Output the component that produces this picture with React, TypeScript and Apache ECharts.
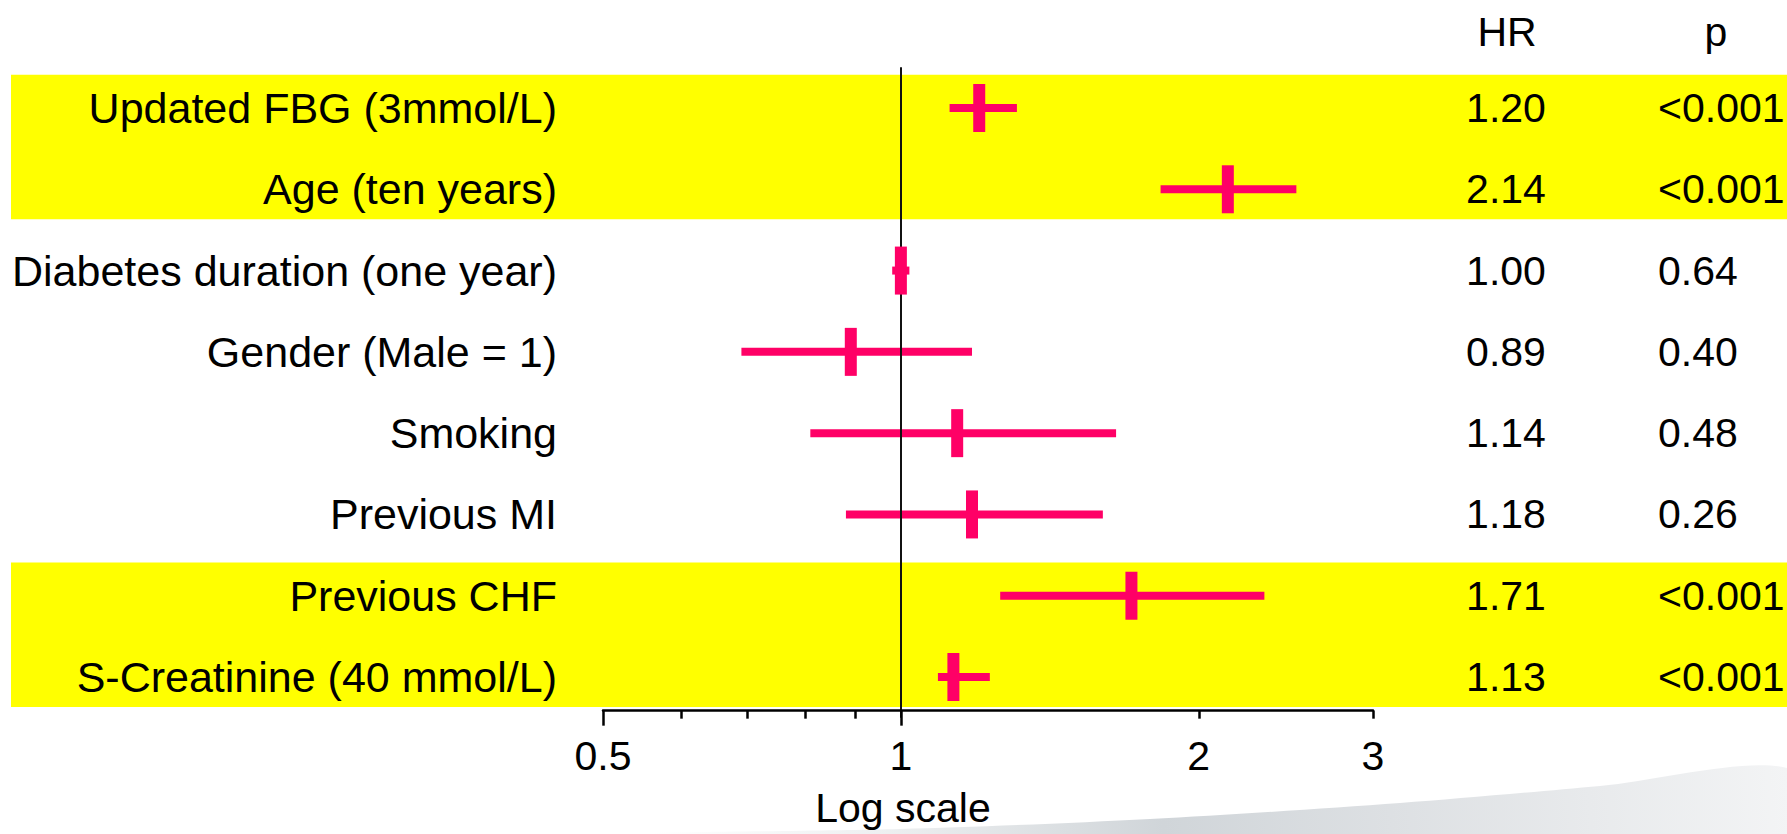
import React, { useEffect, useRef } from "react";
import * as echarts from "echarts";

// Cox model: hazard ratios with 95% confidence intervals
const factors = [
  "Updated FBG (3mmol/L)",
  "Age (ten years)",
  "Diabetes duration (one year)",
  "Gender (Male = 1)",
  "Smoking",
  "Previous MI",
  "Previous CHF",
  "S-Creatinine (40 mmol/L)",
];
const hazardRatios = [1.2, 2.14, 1.0, 0.89, 1.14, 1.18, 1.71, 1.13];
const ciLower = [1.12, 1.83, 0.98, 0.69, 0.81, 0.88, 1.26, 1.09];
const ciUpper = [1.31, 2.51, 1.02, 1.18, 1.65, 1.6, 2.33, 1.23];
const pValues = ["<0.001", "<0.001", "0.64", "0.40", "0.48", "0.26", "<0.001", "<0.001"];

// log-scale axis
const axisMin = 0.5;
const axisMax = 3;
const axisLabelValues = [0.5, 1, 2, 3];
const longTickValues = [0.5, 1];
const shortTickValues = [0.6, 0.7, 0.8, 0.9, 2, 3];

const PINK = "#ff0066";
const YELLOW = "#ffff00";
const FONT = "'Liberation Sans', Arial, Helvetica, sans-serif";

const W = 1787;
const H = 834;
const ROW_TOP = 67.35;
const ROW_H = 81.29;
const PLOT_LEFT = 603;
const PLOT_WIDTH = 770;

const isSignificant = (p: string) => p.startsWith("<") || parseFloat(p) < 0.05;

// consecutive significant rows are shaded together
function significantGroups(): number[][] {
  const groups: number[][] = [];
  pValues.forEach((p, i) => {
    if (!isSignificant(p)) return;
    const last = groups[groups.length - 1];
    if (last && last[1] === i - 1) last[1] = i;
    else groups.push([i, i]);
  });
  return groups;
}

export default function App() {
  const ref = useRef<HTMLDivElement>(null);

  useEffect(() => {
    if (!ref.current) return;
    const chart = echarts.init(ref.current, undefined, { renderer: "svg" });
    const ln = Math.log;
    const groups = significantGroups();
    const gridHeight = ROW_H * factors.length;

    const catAxisBase = {
      type: "category" as const,
      data: factors,
      inverse: true,
      axisLine: { show: false },
      axisTick: { show: false },
      splitLine: { show: false },
      z: 10,
    };

    chart.setOption({
      animation: false,
      backgroundColor: "#ffffff",
      grid: [
        {
          left: PLOT_LEFT,
          width: PLOT_WIDTH,
          top: ROW_TOP,
          height: gridHeight,
          outerBoundsMode: "none",
        },
        {
          left: 11,
          right: 0,
          top: ROW_TOP,
          height: gridHeight,
          outerBoundsMode: "none",
        },
      ],
      xAxis: [
        {
          gridIndex: 0,
          type: "value",
          min: ln(axisMin),
          max: ln(axisMax),
          position: "bottom",
          offset: -7,
          z: 10,
          axisLine: { show: true, lineStyle: { color: "#000", width: 2.5 } },
          axisTick: {
            show: true,
            customValues: longTickValues.map(ln),
            length: 15,
            lineStyle: { color: "#000", width: 2.5 },
          },
          axisLabel: {
            show: true,
            customValues: axisLabelValues.map(ln),
            formatter: (v: number) => String(+Math.exp(v).toFixed(2)),
            fontSize: 41,
            fontFamily: FONT,
            color: "#000",
            margin: 25,
          },
          splitLine: { show: false },
        },
        {
          gridIndex: 0,
          type: "value",
          min: ln(axisMin),
          max: ln(axisMax),
          position: "bottom",
          offset: -7,
          z: 10,
          axisLine: { show: false },
          axisTick: {
            show: true,
            customValues: shortTickValues.map(ln),
            length: 8,
            lineStyle: { color: "#000", width: 2.5 },
          },
          axisLabel: { show: false },
          splitLine: { show: false },
        },
        {
          gridIndex: 1,
          type: "value",
          min: 0,
          max: 1,
          show: false,
        },
      ],
      yAxis: [
        {
          ...catAxisBase,
          gridIndex: 0,
          position: "left",
          axisLabel: {
            interval: 0,
            fontSize: 43,
            fontFamily: FONT,
            color: "#000",
            margin: 46,
          },
        },
        {
          ...catAxisBase,
          gridIndex: 0,
          position: "right",
          axisLabel: {
            interval: 0,
            formatter: (_v: string, i: number) => hazardRatios[i].toFixed(2),
            align: "center",
            fontSize: 41,
            fontFamily: FONT,
            color: "#000",
            margin: 133,
          },
        },
        {
          ...catAxisBase,
          gridIndex: 0,
          position: "right",
          axisLabel: {
            interval: 0,
            formatter: (_v: string, i: number) => pValues[i],
            align: "left",
            fontSize: 41,
            fontFamily: FONT,
            color: "#000",
            margin: 285,
          },
        },
        {
          ...catAxisBase,
          gridIndex: 1,
          show: false,
        },
      ],
      series: [
        {
          // yellow shading behind the significant factors
          type: "custom",
          xAxisIndex: 2,
          yAxisIndex: 3,
          z: 1,
          silent: true,
          data: groups.map((g) => [0, g[0]]),
          renderItem: (params: any, api: any) => {
            const g = groups[params.dataIndex];
            const band = api.size([0, 1])[1];
            const top = api.coord([0, g[0]])[1] - band * 0.41;
            const bottom = api.coord([0, g[1]])[1] + band * 0.37;
            const cs = params.coordSys;
            return {
              type: "rect",
              shape: { x: cs.x, y: top, width: cs.width, height: bottom - top },
              style: { fill: YELLOW },
            };
          },
        },
        {
          // confidence interval bars
          type: "custom",
          xAxisIndex: 0,
          yAxisIndex: 0,
          z: 2,
          silent: true,
          encode: { x: [0, 2], y: 1 },
          data: factors.map((_, i) => [ln(ciLower[i]), i, ln(ciUpper[i])]),
          renderItem: (_params: any, api: any) => {
            const row = api.value(1);
            const a = api.coord([api.value(0), row]);
            const b = api.coord([api.value(2), row]);
            return {
              type: "rect",
              shape: { x: a[0], y: a[1] - 4, width: b[0] - a[0], height: 8 },
              style: { fill: PINK },
            };
          },
        },
        {
          // point estimates
          type: "scatter",
          xAxisIndex: 0,
          yAxisIndex: 0,
          z: 6,
          silent: true,
          symbol: "rect",
          symbolSize: [12, 48],
          itemStyle: { color: PINK, opacity: 1 },
          data: hazardRatios.map((hr, i) => [ln(hr), i]),
          markLine: {
            silent: true,
            z: 5,
            symbol: ["none", "none"],
            label: { show: false },
            lineStyle: { color: "#111", width: 2, type: "solid" },
            data: [{ xAxis: 0 }],
          },
        },
      ],
      graphic: [
        {
          type: "polygon",
          z: -10,
          silent: true,
          shape: {
            points: [
              [560, 834],
              [900, 829],
              [1150, 819],
              [1400, 803],
              [1600, 786],
              [1787, 768],
              [1787, 834],
            ],
            smooth: 0.3,
          },
          style: {
            fill: new echarts.graphic.LinearGradient(
              1787,
              760,
              650,
              834,
              [
                { offset: 0, color: "#f3f4f5" },
                { offset: 0.35, color: "#dde0e3" },
                { offset: 0.55, color: "#d0d5d9" },
                { offset: 0.8, color: "#eef0f1" },
                { offset: 1, color: "#ffffff" },
              ],
              true
            ),
          },
        },
        {
          type: "text",
          z: 10,
          x: 1507,
          y: 32,
          style: {
            text: "HR",
            fontSize: 41,
            fontFamily: FONT,
            fill: "#000",
            align: "center",
            verticalAlign: "middle",
          },
        },
        {
          type: "text",
          z: 10,
          x: 1716,
          y: 32,
          style: {
            text: "p",
            fontSize: 41,
            fontFamily: FONT,
            fill: "#000",
            align: "center",
            verticalAlign: "middle",
          },
        },
        {
          type: "text",
          z: 10,
          x: 903,
          y: 808,
          style: {
            text: "Log scale",
            fontSize: 41,
            fontFamily: FONT,
            fill: "#000",
            align: "center",
            verticalAlign: "middle",
          },
        },
      ],
    });

    return () => chart.dispose();
  }, []);

  return (
    <div
      ref={ref}
      style={{ position: "absolute", left: 0, top: 0, width: W, height: H }}
    />
  );
}
